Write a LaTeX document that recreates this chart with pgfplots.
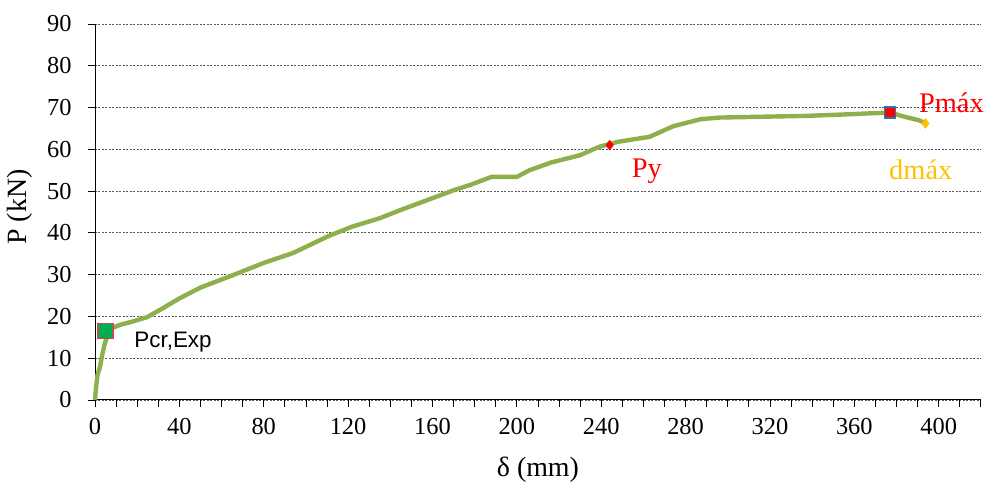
\documentclass[border=0pt]{standalone}
\usepackage{fontspec}
\setmainfont{Liberation Serif}
\newfontfamily\arial{Liberation Sans}
\usepackage{pgfplots}
\pgfplotsset{compat=1.18}
\definecolor{curve}{HTML}{8DB04C}
\definecolor{gridc}{HTML}{555555}
\definecolor{crfill}{HTML}{00B050}
\definecolor{crdraw}{HTML}{C0504D}
\definecolor{pmdraw}{HTML}{2E75B6}
\definecolor{gold}{HTML}{FFC000}
\begin{document}
\begin{tikzpicture}
\begin{axis}[
  scale only axis, width=886bp, height=376bp,
  xmin=0, xmax=420, ymin=0, ymax=90,
  axis x line=bottom, axis y line=left,
  axis line style={-, black, line width=0.9bp},
  xtick={0,40,...,400}, minor xtick={0,10,...,420},
  ytick={0,10,...,90},
  tick align=outside,
  major tick length=7bp, minor tick length=7bp,
  tick style={black, line width=0.8bp},
  ymajorgrids, grid style={gridc, dash pattern=on 2bp off 1.5bp, line width=0.8bp},
  /pgf/number format/assume math mode=true,
  tick label style={font=\fontsize{24.5}{24.5}\selectfont},
  xticklabel style={yshift=-8bp},
  yticklabel style={xshift=-13bp},
  xlabel={δ (mm)}, ylabel={P (kN)},
  xlabel style={font=\fontsize{28}{28}\selectfont,
    at={(axis description cs:0.5,0)}, anchor=center, yshift=-70bp},
  ylabel style={font=\fontsize{28}{28}\selectfont,
    at={(axis description cs:0,0.5)}, anchor=center, yshift=75bp, xshift=5bp},
  clip=false,
]
\addplot[curve, line width=4.4bp, line join=round] coordinates {
  (0,0) (0.5,3) (1.2,6) (2.4,8) (3.5,11) (4.7,13.6) (6,15.5) (8,17.2)
  (12,18) (16.6,18.6) (24.6,19.8) (32,21.9) (40,24.3) (50,26.9) (64,29.6)
  (80,32.8) (94,35.2) (111,39.3) (122,41.5) (135,43.5) (145,45.5)
  (160,48.3) (170,50.2) (178,51.5) (188,53.4) (200,53.4) (206,55)
  (216,56.8) (230,58.6) (239,60.6) (248,61.8) (258,62.6) (263,63)
  (274,65.5) (287,67.2) (296,67.6) (337,68) (353,68.3) (372,68.7)
  (377,68.8) (383,67.9) (391,66.9) (393.7,66.2)};
\addplot[only marks, mark=square*, mark size=7.5bp,
  mark options={fill=crfill, draw=crdraw, line width=1.2bp}] coordinates {(5,16.5)};
\addplot[only marks, mark=diamond*, mark size=5bp,
  mark options={fill=red, draw=red}] coordinates {(244,61)};
\addplot[only marks, mark=square*, mark size=5.5bp,
  mark options={fill=red, draw=pmdraw, line width=1.2bp}] coordinates {(377,68.8)};
\addplot[only marks, mark=diamond*, mark size=5bp,
  mark options={fill=gold, draw=gold}] coordinates {(393.7,66.2)};
\node[font=\arial\fontsize{22.5}{22.5}\selectfont] at (axis cs:37,13.9) {Pcr,Exp};
\node[font=\fontsize{28.5}{28.5}\selectfont, text=red] at (axis cs:261.6,54.7) {Py};
\node[font=\fontsize{28.5}{28.5}\selectfont, text=red] at (axis cs:406,71.2) {Pmáx};
\node[font=\fontsize{28.5}{28.5}\selectfont, text=gold] at (axis cs:391.5,55.1) {dmáx};
\end{axis}
\path[use as bounding box] ([shift={(-95bp,-80bp)}]current axis.south west)
  rectangle ([shift={(6bp,24bp)}]current axis.north east);
\end{tikzpicture}
\end{document}
